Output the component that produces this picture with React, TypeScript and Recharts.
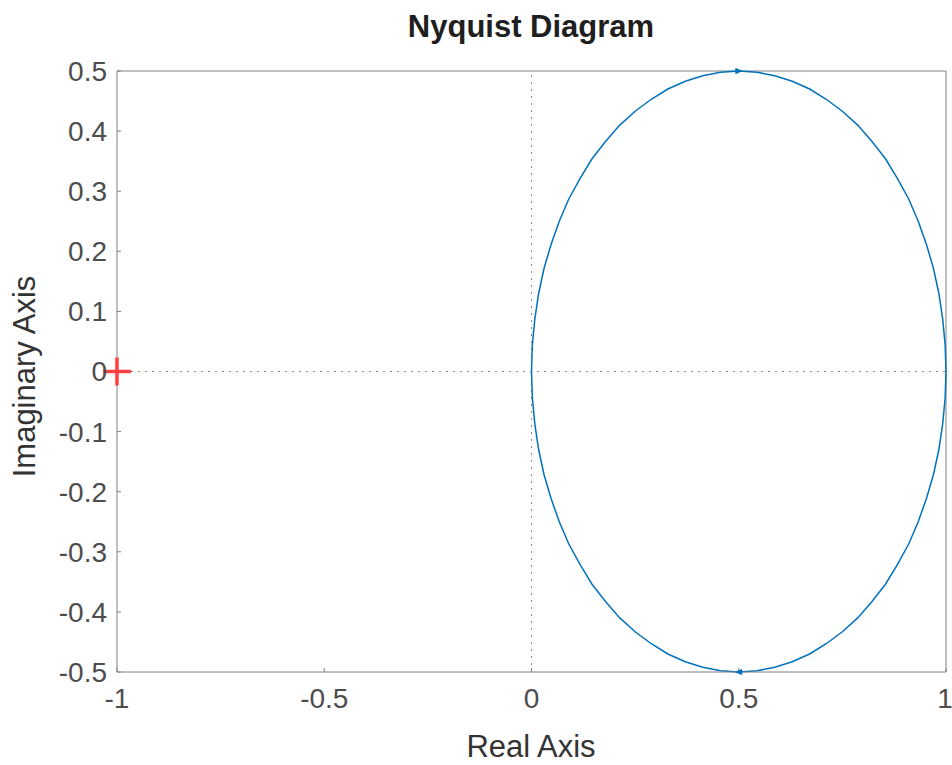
import React from "react";
import {
  ComposedChart,
  Line,
  Scatter,
  XAxis,
  YAxis,
  ReferenceLine,
} from "recharts";

// Nyquist curve: real and imaginary parts (counter-clockwise listing from (1,0))
const realPart = [
  1.0, 0.998, 0.992, 0.983, 0.97, 0.953, 0.933, 0.91, 0.883, 0.854, 0.821, 0.787,
  0.75, 0.711, 0.671, 0.629, 0.587, 0.544, 0.5, 0.456, 0.413, 0.371, 0.329, 0.289,
  0.25, 0.213, 0.179, 0.146, 0.117, 0.09, 0.067, 0.047, 0.03, 0.017, 0.008, 0.002,
  0.0, 0.002, 0.008, 0.017, 0.03, 0.047, 0.067, 0.09, 0.117, 0.146, 0.179, 0.213,
  0.25, 0.289, 0.329, 0.371, 0.413, 0.456, 0.5, 0.544, 0.587, 0.629, 0.671, 0.711,
  0.75, 0.787, 0.821, 0.854, 0.883, 0.91, 0.933, 0.953, 0.97, 0.983, 0.992, 0.998,
  1.0,
];
const imagPart = [
  0.0, 0.044, 0.087, 0.129, 0.171, 0.211, 0.25, 0.287, 0.321, 0.354, 0.383, 0.41,
  0.433, 0.453, 0.47, 0.483, 0.492, 0.498, 0.5, 0.498, 0.492, 0.483, 0.47, 0.453,
  0.433, 0.41, 0.383, 0.354, 0.321, 0.287, 0.25, 0.211, 0.171, 0.129, 0.087, 0.044,
  0.0, -0.044, -0.087, -0.129, -0.171, -0.211, -0.25, -0.287, -0.321, -0.354, -0.383, -0.41,
  -0.433, -0.453, -0.47, -0.483, -0.492, -0.498, -0.5, -0.498, -0.492, -0.483, -0.47, -0.453,
  -0.433, -0.41, -0.383, -0.354, -0.321, -0.287, -0.25, -0.211, -0.171, -0.129, -0.087, -0.044,
  0.0,
];

// Direction arrows on the curve
const arrowRe = [0.5, 0.5];
const arrowIm = [0.5, -0.5];
const arrowDir = [1, -1]; // 1 = pointing right, -1 = pointing left

// Critical point marker
const criticalRe = [-1];
const criticalIm = [0];

const xTicks = [-1, -0.5, 0, 0.5, 1];
const yTicks = [-0.5, -0.4, -0.3, -0.2, -0.1, 0, 0.1, 0.2, 0.3, 0.4, 0.5];

const curveData = realPart.map((re, i) => ({ re, im: imagPart[i] }));
const arrowData = arrowRe.map((re, i) => ({ re, im: arrowIm[i], dir: arrowDir[i] }));
const criticalData = criticalRe.map((re, i) => ({ re, im: criticalIm[i] }));

const FONT = '"Liberation Sans", Arial, Helvetica, sans-serif';
const AXIS_COLOR = "#808080";
const TICK_COLOR = "#4d4d4d";
const CURVE_COLOR = "#0072BD";

const fmt = (v: number) => String(Number(v.toFixed(1)));

const PlusShape = (props: any) => {
  const { cx, cy } = props;
  if (cx == null || cy == null) return null;
  const h = 14;
  return (
    <g>
      <line x1={cx - h} y1={cy} x2={cx + h} y2={cy} stroke="#ff4040" strokeWidth={3.5} />
      <line x1={cx} y1={cy - h} x2={cx} y2={cy + h} stroke="#ff4040" strokeWidth={3.5} />
    </g>
  );
};

const ArrowShape = (props: any) => {
  const { cx, cy, payload } = props;
  if (cx == null || cy == null) return null;
  const d = payload && payload.dir ? payload.dir : 1;
  const tip = cx + d * 3;
  const back = cx - d * 3;
  return (
    <path
      d={`M${tip},${cy} L${back},${cy - 2.5} L${back},${cy + 2.5} Z`}
      fill={CURVE_COLOR}
      stroke={CURVE_COLOR}
      strokeWidth={1}
    />
  );
};

export default function App() {
  return (
    <div
      style={{
        position: "absolute",
        left: 0,
        top: 0,
        width: 952,
        height: 765,
        background: "#ffffff",
        fontFamily: FONT,
      }}
    >
      <ComposedChart
        width={952}
        height={765}
        data={curveData}
        margin={{ top: 71, right: 6, bottom: 63, left: 57 }}
      >
        <XAxis
          dataKey="re"
          type="number"
          domain={[-1, 1]}
          ticks={xTicks}
          tickFormatter={fmt}
          height={30}
          stroke={AXIS_COLOR}
          tickSize={-4}
          tickMargin={20}
          tick={{ fill: TICK_COLOR, fontSize: 28, fontFamily: FONT }}
          tickLine={{ stroke: AXIS_COLOR }}
          axisLine={{ stroke: AXIS_COLOR }}
        />
        <YAxis
          dataKey="im"
          type="number"
          domain={[-0.5, 0.5]}
          ticks={yTicks}
          tickFormatter={fmt}
          width={60}
          stroke={AXIS_COLOR}
          tickSize={-4}
          tickMargin={14}
          tick={{ fill: TICK_COLOR, fontSize: 28, fontFamily: FONT }}
          tickLine={{ stroke: AXIS_COLOR }}
          axisLine={{ stroke: AXIS_COLOR }}
        />
        <ReferenceLine y={0.5} stroke={AXIS_COLOR} strokeWidth={1} />
        <ReferenceLine x={1} stroke={AXIS_COLOR} strokeWidth={1} />
        <ReferenceLine x={0} stroke="#8a8a8a" strokeDasharray="2 5" strokeWidth={1} />
        <ReferenceLine y={0} stroke="#8a8a8a" strokeDasharray="2 5" strokeWidth={1} />
        <Line
          dataKey="im"
          type="linear"
          stroke={CURVE_COLOR}
          strokeWidth={1.5}
          dot={false}
          activeDot={false}
          isAnimationActive={false}
        />
        <Scatter
          data={arrowData}
          dataKey="im"
          shape={<ArrowShape />}
          isAnimationActive={false}
        />
        <Scatter
          data={criticalData}
          dataKey="im"
          shape={<PlusShape />}
          isAnimationActive={false}
        />
      </ComposedChart>
      <div
        style={{
          position: "absolute",
          left: 331,
          width: 400,
          top: 11,
          textAlign: "center",
          fontSize: 31,
          lineHeight: "31px",
          fontWeight: "bold",
          color: "#1f1f1f",
          whiteSpace: "nowrap",
        }}
      >
        Nyquist Diagram
      </div>
      <div
        style={{
          position: "absolute",
          left: 331,
          width: 400,
          top: 731,
          textAlign: "center",
          fontSize: 31,
          lineHeight: "31px",
          color: "#333333",
          whiteSpace: "nowrap",
        }}
      >
        Real Axis
      </div>
      <div
        style={{
          position: "absolute",
          left: 24 - 150,
          width: 300,
          top: 376 - 15.5,
          height: 31,
          textAlign: "center",
          fontSize: 31,
          lineHeight: "31px",
          color: "#333333",
          whiteSpace: "nowrap",
          transform: "rotate(-90deg)",
          transformOrigin: "50% 50%",
        }}
      >
        Imaginary Axis
      </div>
    </div>
  );
}
